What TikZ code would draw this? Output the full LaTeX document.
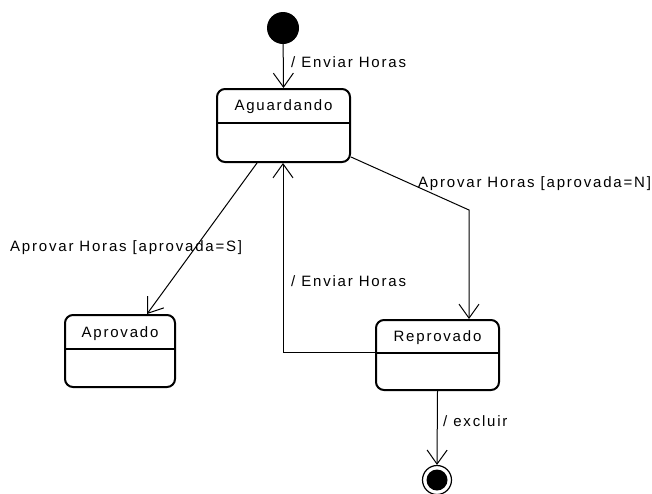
\documentclass[tikz,border=0pt]{standalone}
\usepackage{fontspec}
\setmainfont[LetterSpace=12]{Liberation Sans}
\usetikzlibrary{arrows.meta}
\begin{document}
\begin{tikzpicture}[x=1pt,y=-1pt,
  every node/.style={font=\fontsize{15}{18}\selectfont, inner sep=0pt},
  state/.style={draw, line width=2pt, rounded corners=8pt},
  divider/.style={line width=1.5pt},
  trans/.style={line width=1pt, -{Straight Barb[length=14pt,width=20pt,line width=1pt]}},
  lbl/.style={anchor=west}]
\useasboundingbox (0,0) rectangle (652,493);

% states
\node[state, minimum width=133pt, minimum height=73pt] (ag) at (283.5,125.5) {};
\node (agt) at (283.5,107) {Aguardando};
\coordinate (agd) at (283.5,123);
\draw[divider] (ag.west |- agd) -- (ag.east |- agd);

\node[state, minimum width=110pt, minimum height=72pt] (apr) at (120,351) {};
\node (aprt) at (120,334) {Aprovado};
\coordinate (aprd) at (120,349);
\draw[divider] (apr.west |- aprd) -- (apr.east |- aprd);

\node[state, minimum width=123pt, minimum height=70pt] (rep) at (437.5,355) {};
\node (rept) at (437.5,338) {Reprovado};
\coordinate (repd) at (437.5,353);
\draw[divider] (rep.west |- repd) -- (rep.east |- repd);

% initial and final pseudo-states
\node[circle, fill=black, minimum size=32pt] (init) at (283,28) {};
\node[circle, draw, line width=1.2pt, minimum size=29pt] (fin) at (437,480) {};
\node[circle, fill=black, minimum size=21pt] (finc) at (437,480) {};

% transitions
\draw[trans] (init) -- (ag.north);
\node[lbl] (l1) at (291,62) {/ Enviar Horas};

\draw[trans] ([xshift=-26.5pt]ag.south) -- ([xshift=27pt]apr.north);
\node[lbl] (l2) at (10,248) {Aprovar Horas [aprovada=S]};

\coordinate (bend) at (469,210);
\draw[trans] ([yshift=-31.5pt]ag.east) -- (bend) -- ([xshift=31.5pt]rep.north);
\node[lbl] (l3) at (418,184) {Aprovar Horas [aprovada=N]};

\draw[trans] ([yshift=3pt]rep.west) -| ([xshift=-0.5pt]ag.south);
\node[lbl] (l4) at (291,281) {/ Enviar Horas};

\draw[trans] (rep.south) -- (fin.north);
\node[lbl] (l5) at (443,421) {/ excluir};
\end{tikzpicture}
\end{document}
